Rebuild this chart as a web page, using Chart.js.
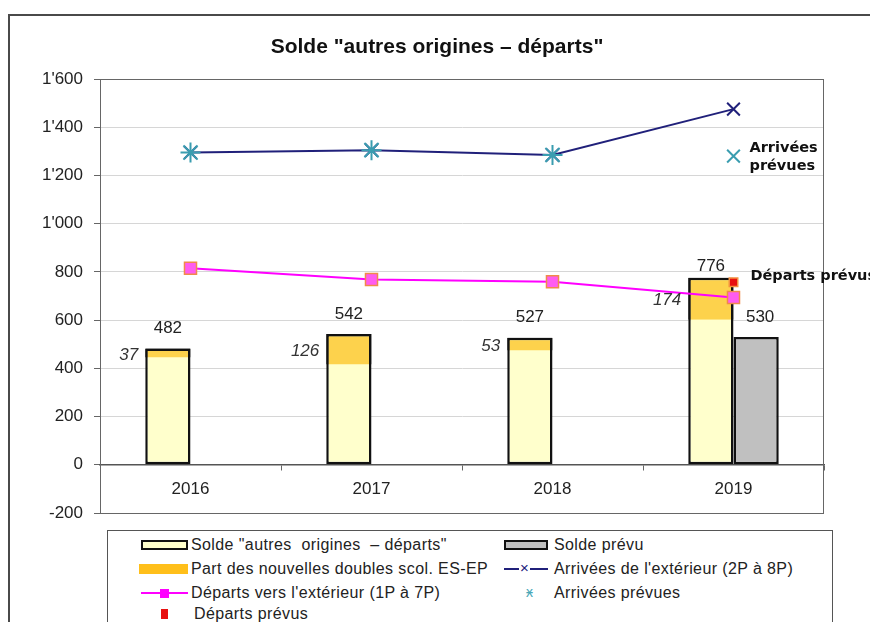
<!DOCTYPE html>
<html>
<head>
<meta charset="utf-8">
<script src="https://cdn.jsdelivr.net/npm/chart.js@4.4.1/dist/chart.umd.min.js"></script>
<style>
  html, body { margin: 0; padding: 0; background: #fff; }
  #wrap { position: relative; width: 870px; height: 622px; overflow: hidden; font-family: "Liberation Sans", Arial, sans-serif; }
  #frame { position: absolute; left: 8px; top: 14px; width: 900px; height: 700px; border: 2px solid #4a4a4a; }
  #chart { position: absolute; left: 0; top: 0; }
  #title { position: absolute; left: 0; width: 874px; top: 34px; text-align: center; font-weight: bold; font-size: 21px; color: #111; }
  #legend { position: absolute; left: 107px; top: 530px; width: 724px; height: 120px; border: 1px solid #555; background: #fff; }
  .lbl { position: absolute; font-size: 16px; letter-spacing: 0.4px; color: #222; line-height: 18px; white-space: nowrap; }
  .sym { position: absolute; box-sizing: border-box; }
</style>
</head>
<body>
<div id="wrap">
  <div id="frame"></div>
  <canvas id="chart" width="870" height="622"></canvas>
  <div id="title">Solde "autres origines – départs"</div>
  <div id="legend">
    <div class="sym" style="left:33px;top:9px;width:47px;height:10px;border:2px solid #111;background:#ffffcc"></div>
    <div class="lbl" style="left:83px;top:5px">Solde "autres&nbsp; origines&nbsp; – départs"</div>

    <div class="sym" style="left:31px;top:33px;width:49px;height:10px;background:#ffbf1a"></div>
    <div class="lbl" style="left:83px;top:29px">Part des nouvelles doubles scol. ES-EP</div>

    <div class="sym" style="left:33px;top:61px;width:47px;height:2px;background:#ff00ff"></div>
    <div class="sym" style="left:52px;top:58px;width:9px;height:9px;background:#ff00ff"></div>
    <div class="lbl" style="left:83px;top:53px">Départs vers l'extérieur (1P à 7P)</div>

    <div class="sym" style="left:53px;top:78px;width:7px;height:10px;background:#e81010"></div>
    <div class="lbl" style="left:86px;top:74px">Départs prévus</div>

    <div class="sym" style="left:396px;top:9px;width:44px;height:10px;border:2px solid #111;background:#c0c0c0"></div>
    <div class="lbl" style="left:446px;top:5px">Solde prévu</div>

    <div class="sym" style="left:396px;top:37px;width:44px;height:2px;background:#20207a"></div>
    <div class="lbl" style="left:411px;top:28px;color:#20207a;background:#fff;font-size:15px;line-height:18px;padding:0 1px">×</div>
    <div class="lbl" style="left:446px;top:29px">Arrivées de l'extérieur (2P à 8P)</div>

    <div class="lbl" style="left:418px;top:52px;color:#4aa8b8;font-size:14px">ӿ</div>
    <div class="lbl" style="left:446px;top:53px">Arrivées prévues</div>
  </div>
</div>
<script>
const years = ['2016', '2017', '2018', '2019'];
const soldeTotal = [482, 542, 527, 776];
const partDoubles = [37, 126, 53, 174];
const soldePrevu = [null, null, null, 530];
const arrivees = [1295, 1305, 1285, 1475];
const arriveesPrevues = [1295, 1305, 1285, 1280];
const departs = [815, 768, 759, 694];
const departsPrevus = [null, null, null, 757];

const partRanges = soldeTotal.map((t, i) => [t - partDoubles[i], t]);

function fmt(v) {
  return String(v).replace(/\B(?=(\d{3})+(?!\d))/g, "'");
}

const plotBorder = {
  id: 'plotBorder',
  beforeDatasetsDraw(chart) {
    const { ctx, chartArea: a } = chart;
    ctx.save();
    ctx.strokeStyle = '#666';
    ctx.lineWidth = 1;
    ctx.strokeRect(a.left + 0.5, a.top + 0.5, a.right - a.left - 1, a.bottom - a.top);
    ctx.restore();
  },
};

const labels = {
  id: 'labels',
  afterDatasetsDraw(chart) {
    const ctx = chart.ctx;
    ctx.save();
    ctx.fillStyle = '#222';
    ctx.textBaseline = 'middle';

    // totaux au-dessus des barres
    ctx.font = '17px "Liberation Sans", Arial, sans-serif';
    ctx.textAlign = 'center';
    chart.getDatasetMeta(0).data.forEach((el, i) => {
      const dy = i === 3 ? 11 : 20;
      ctx.fillText(String(soldeTotal[i]), el.x, el.y - dy);
    });
    chart.getDatasetMeta(2).data.forEach((el, i) => {
      if (soldePrevu[i] == null) return;
      ctx.fillText(String(soldePrevu[i]), el.x + 4, el.y - 20);
    });

    // part des doubles scol. (italique, à gauche)
    ctx.font = 'italic 17px "Liberation Sans", Arial, sans-serif';
    ctx.textAlign = 'right';
    ctx.fillStyle = '#333';
    chart.getDatasetMeta(1).data.forEach((el, i) => {
      const left = el.x - el.width / 2;
      ctx.fillText(String(partDoubles[i]), left - 7, (el.y + el.base) / 2 + 2);
    });

    // annotations prévues
    ctx.font = 'bold 14.5px "DejaVu Sans", Verdana, sans-serif';
    ctx.textAlign = 'left';
    ctx.fillStyle = '#111';
    const pa = chart.getDatasetMeta(5).data[3];
    ctx.fillText('Arrivées', pa.x + 16, pa.y - 8);
    ctx.fillText('prévues', pa.x + 16, pa.y + 10);
    const pd = chart.getDatasetMeta(6).data[3];
    ctx.fillText('Départs prévus', pd.x + 17, pd.y - 6);
    ctx.restore();
  },
};

new Chart(document.getElementById('chart'), {
  type: 'bar',
  data: {
    labels: years,
    datasets: [
      {
        label: 'Solde "autres origines – départs"',
        data: soldeTotal,
        stack: 'solde',
        backgroundColor: '#ffffcc',
        borderColor: '#111',
        borderWidth: 2.5,
        borderSkipped: false,
        order: 10,
      },
      {
        label: 'Part des nouvelles doubles scol. ES-EP',
        data: partRanges,
        stack: 'solde',
        backgroundColor: '#fdd24c',
        borderColor: '#111',
        borderWidth: { top: 2.5, left: 2.5, right: 2.5, bottom: 0 },
        borderSkipped: false,
        order: 9,
      },
      {
        label: 'Solde prévu',
        data: soldePrevu,
        stack: 'prevu',
        backgroundColor: '#c0c0c0',
        borderColor: '#111',
        borderWidth: 2.5,
        borderSkipped: false,
        order: 10,
      },
      {
        type: 'line',
        label: "Départs vers l'extérieur (1P à 7P)",
        data: departs,
        borderColor: '#ff00ff',
        borderWidth: 2,
        pointStyle: 'rect',
        pointRadius: 8.5,
        pointBackgroundColor: '#ff5cf0',
        pointBorderColor: '#f08a4a',
        pointBorderWidth: 1.5,
        order: 3,
      },
      {
        type: 'line',
        label: "Arrivées de l'extérieur (2P à 8P)",
        data: arrivees,
        borderColor: '#20207a',
        borderWidth: 2,
        pointStyle: 'crossRot',
        pointRadius: 9,
        pointBorderColor: '#20207a',
        pointBorderWidth: 2,
        order: 3,
      },
      {
        type: 'line',
        label: 'Arrivées prévues',
        data: arriveesPrevues,
        showLine: false,
        pointStyle: ['star', 'star', 'star', 'crossRot'],
        pointRadius: [10, 10, 10, 9],
        pointBorderColor: '#3a9db0',
        pointBorderWidth: 2,
        order: 1,
      },
      {
        type: 'line',
        label: 'Départs prévus',
        data: departsPrevus,
        showLine: false,
        pointStyle: 'rect',
        pointRadius: 6,
        pointBackgroundColor: '#e81010',
        pointBorderColor: '#f39040',
        pointBorderWidth: 1.5,
        order: 0,
      },
    ],
  },
  options: {
    responsive: false,
    animation: false,
    layout: { padding: { left: 0, right: 46, top: 79, bottom: 109 } },
    plugins: { legend: { display: false }, tooltip: { enabled: false } },
    datasets: { bar: { categoryPercentage: 0.5, barPercentage: 1 } },
    scales: {
      x: {
        stacked: true,
        position: { y: 0 },
        offset: true,
        grid: { display: true, drawOnChartArea: false, drawTicks: true, tickLength: 5, tickColor: '#666', offset: true },
        border: { display: true, color: '#555', width: 1.5 },
        ticks: { color: '#222', font: { size: 17, family: '"Liberation Sans", Arial, sans-serif' }, padding: 9 },
        afterFit(scale) { scale.height = 0; },
      },
      y: {
        stacked: false,
        min: -200,
        max: 1600,
        ticks: {
          stepSize: 200,
          color: '#222',
          padding: 11,
          font: { size: 17, family: '"Liberation Sans", Arial, sans-serif' },
          callback: (v) => fmt(v),
        },
        grid: { color: '#d6d6d6', tickColor: '#666', tickLength: 6 },
        border: { display: true, color: '#666', width: 1 },
        afterFit(scale) { scale.width = 100; },
      },
    },
  },
  plugins: [plotBorder, labels],
});
</script>
</body>
</html>
